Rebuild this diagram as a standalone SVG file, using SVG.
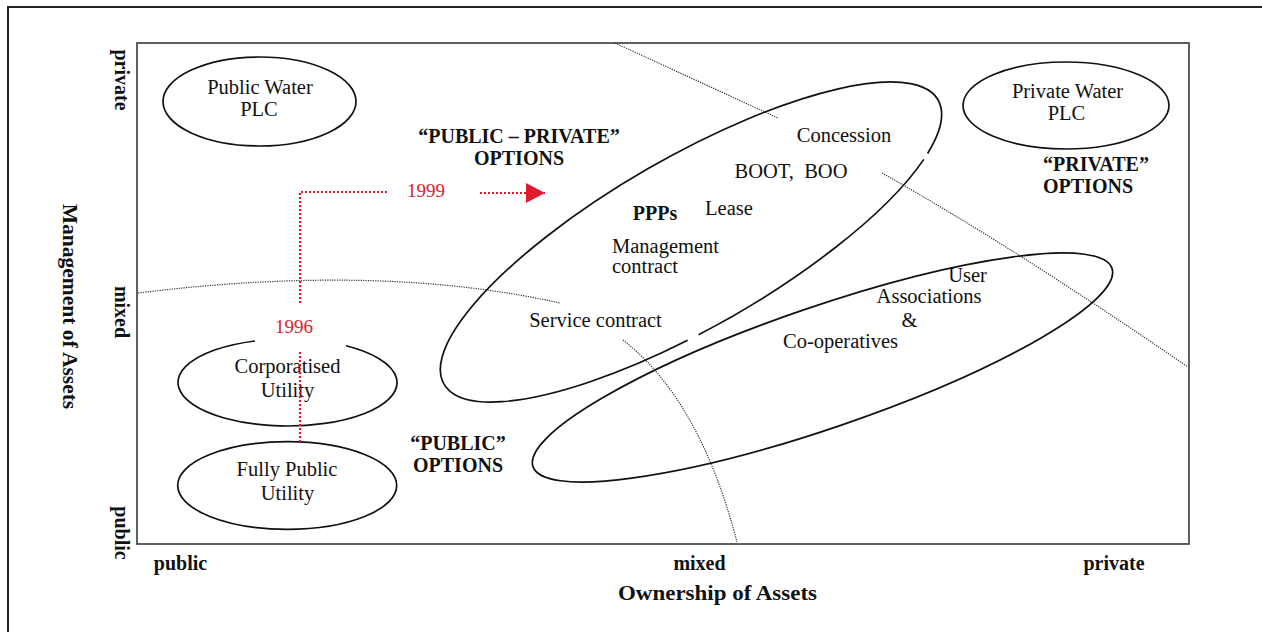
<svg xmlns="http://www.w3.org/2000/svg" width="1262" height="632" viewBox="0 0 1262 632">
<style>
text{font-family:"Liberation Serif","Times New Roman",serif;fill:#111}
.r{font-size:20.5px}
.b{font-size:20px;font-weight:bold}
.ax{font-size:21.5px;font-weight:bold}
.red{font-size:19px;fill:#e01a2c}
.el{fill:none;stroke:#111;stroke-width:1.7}
.dot{fill:none;stroke:#333;stroke-width:1.2;stroke-dasharray:1.2 1.2}
.rd{fill:none;stroke:#e01a2c;stroke-width:2.2;stroke-dasharray:2 2}
</style>
<defs>
<marker id="ah" viewBox="0 0 19 20" refX="19" refY="10" markerWidth="19" markerHeight="20" markerUnits="userSpaceOnUse" orient="auto">
<path d="M0,0 L19,10 L0,20 Z" fill="#e01a2c"/>
</marker>
</defs>
<rect width="1262" height="632" fill="#fff"/>
<g id="frame">
<path d="M8,632 L8,7 L1262,7" fill="none" stroke="#222" stroke-width="2"/>
<rect x="137" y="43" width="1052" height="501" fill="none" stroke="#444" stroke-width="1.7"/>
</g>
<g id="axes">
<text class="b" x="180.5" y="570" text-anchor="middle">public</text>
<text class="b" x="699.5" y="570" text-anchor="middle">mixed</text>
<text class="b" x="1114" y="570" text-anchor="middle">private</text>
<text class="ax" x="717.5" y="600" text-anchor="middle" textLength="199" lengthAdjust="spacingAndGlyphs">Ownership of Assets</text>
<text class="b" transform="translate(115,80) rotate(90)" text-anchor="middle">private</text>
<text class="b" transform="translate(115,312) rotate(90)" text-anchor="middle">mixed</text>
<text class="b" transform="translate(115,533) rotate(90)" text-anchor="middle">public</text>
<text class="ax" transform="translate(63,306.5) rotate(90)" text-anchor="middle">Management of Assets</text>
</g>
<g id="boundaries">
<path class="dot" d="M138,293 Q380,263 560,303"/>
<path class="dot" d="M615,43 L778,118"/>
<path class="dot" d="M882,173 Q1010,245 1188,367"/>
<path class="dot" d="M623,340 Q700,400 737,542"/>
</g>
<g id="public-water-plc">
<ellipse class="el" cx="259.5" cy="101.5" rx="96.5" ry="44.5"/>
<text class="r" x="260" y="94" text-anchor="middle">Public Water</text>
<text class="r" x="259" y="115.5" text-anchor="middle">PLC</text>
</g>
<g id="private-water-plc">
<ellipse class="el" cx="1066" cy="105.5" rx="103" ry="43.5"/>
<text class="r" x="1067.5" y="98" text-anchor="middle">Private Water</text>
<text class="r" x="1066.5" y="120" text-anchor="middle">PLC</text>
</g>
<g id="corporatised-utility">
<path class="el" d="M255,340.97 A109.5,43.5 0 1 0 346,345.73"/>
<text class="r" x="287.5" y="372.5" text-anchor="middle">Corporatised</text>
<text class="r" x="287.5" y="396.5" text-anchor="middle">Utility</text>
</g>
<g id="fully-public-utility">
<ellipse class="el" cx="287.2" cy="485.5" rx="109.5" ry="43.8"/>
<text class="r" x="287" y="476" text-anchor="middle">Fully Public</text>
<text class="r" x="287.5" y="500" text-anchor="middle">Utility</text>
</g>
<g id="ppps">
<path class="el" d="M923.8,159.36 A285,85 -29.9 0 1 698.57,334.75 M687.64,340.35 A285,85 -29.9 1 1 927.63,153.46"/>
<text class="r" x="844" y="142" text-anchor="middle">Concession</text>
<text class="r" x="791" y="178" text-anchor="middle" xml:space="preserve">BOOT,  BOO</text>
<text class="r" x="729" y="215" text-anchor="middle">Lease</text>
<text class="b" x="655" y="220" text-anchor="middle">PPPs</text>
<text class="r" x="612" y="253">Management</text>
<text class="r" x="612" y="273">contract</text>
<text class="r" x="595.5" y="327" text-anchor="middle">Service contract</text>
</g>
<g id="user-associations">
<ellipse class="el" cx="822.5" cy="367.5" rx="306" ry="60.6" transform="rotate(-18.9 822.5 367.5)"/>
<text class="r" x="967.5" y="282" text-anchor="middle">User</text>
<text class="r" x="929" y="303" text-anchor="middle">Associations</text>
<text class="r" x="909.5" y="327" text-anchor="middle">&amp;</text>
<text class="r" x="840.5" y="348" text-anchor="middle">Co-operatives</text>
</g>
<g id="public-private-options">
<text class="b" x="519" y="143" text-anchor="middle">“PUBLIC – PRIVATE”</text>
<text class="b" x="519" y="165" text-anchor="middle">OPTIONS</text>
</g>
<g id="private-options">
<text class="b" x="1043" y="170.5">“PRIVATE”</text>
<text class="b" x="1043" y="193">OPTIONS</text>
</g>
<g id="public-options">
<text class="b" x="458" y="450" text-anchor="middle">“PUBLIC”</text>
<text class="b" x="458" y="472" text-anchor="middle">OPTIONS</text>
</g>
<g id="connectors">
<path class="rd" d="M300,442 L300,350"/>
<path class="rd" d="M300,303 L300,192 L389,192"/>
<path class="rd" d="M480,193 L545,193" marker-end="url(#ah)"/>
<text class="red" x="294" y="333" text-anchor="middle">1996</text>
<text class="red" x="426" y="197" text-anchor="middle">1999</text>
</g>
</svg>
